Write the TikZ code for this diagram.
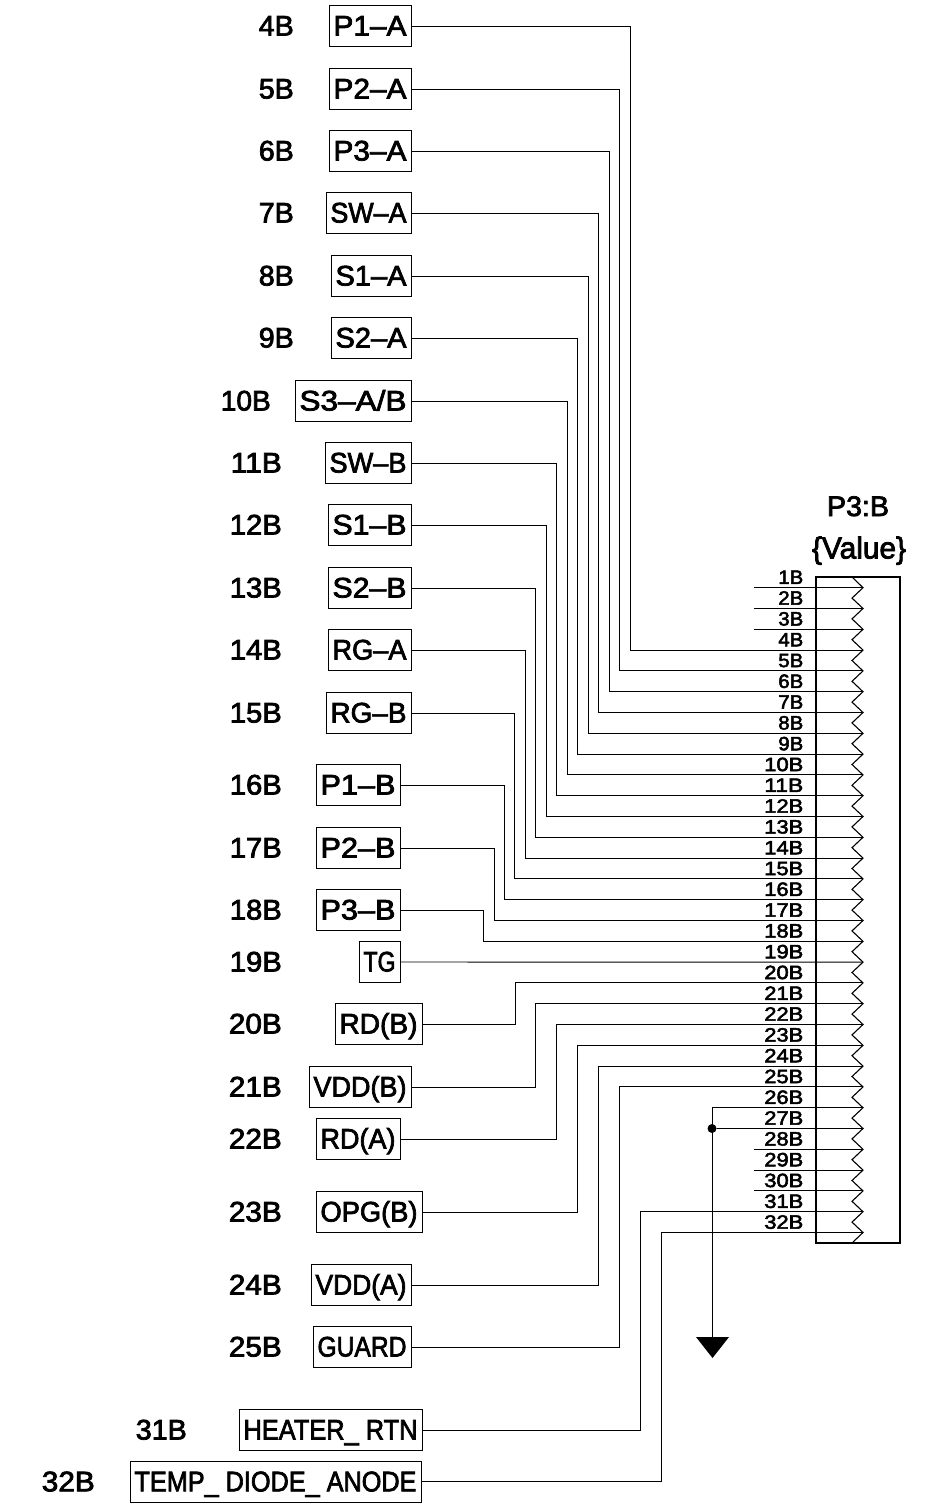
\documentclass[tikz,border=0pt]{standalone}
\usepackage{fontspec}
\usepackage{graphicx}
\setmainfont{Liberation Sans}[AutoFakeBold=2.6]
\newcommand{\fitText}[3]{\resizebox{#1pt}{#2pt}{\fontsize{30}{36}\selectfont\bfseries\vphantom{(}#3}}
\tikzset{
  wire/.style={draw=black,line width=0.95pt},
  signalbox/.style={draw=black,line width=1pt,inner sep=0pt,minimum height=41pt,text height=20.5pt,text depth=1.5pt,align=center},
  pinnum/.style={inner sep=0pt,anchor=base east},
  sidenum/.style={inner sep=0pt,anchor=east,text height=20.5pt,text depth=1.5pt},
  junction/.style={circle,fill=black,inner sep=0pt,minimum size=9pt},
  title/.style={inner sep=0pt,anchor=base}
}
% name, left, right, y, text, side label, side label right edge, side label width
\newcommand{\sigbox}[8]{%
  \pgfmathsetmacro{\boxcx}{(#2+#3)/2}%
  \pgfmathsetmacro{\boxw}{#3-#2}%
  \pgfmathsetmacro{\textw}{#3-#2-9}%
  \node[signalbox,minimum width=\boxw pt] (#1) at (\boxcx,#4) {\fitText{\textw}{20.5}{#5}};
  \node[sidenum] (#1num) at (#7,#4) {\fitText{#8}{20.5}{#6}};
}
% name, bus x, pin
\newcommand{\conn}[3]{\draw[wire] (#1.east) -- (#2,0 |- #1.east) -- (#2,0 |- tip#3) -- (tip#3);}
\begin{document}
\begin{tikzpicture}[x=1pt,y=-1pt]
\useasboundingbox (0,0) rectangle (929,1503);
\fill[white] (0,0) rectangle (929,1503);
% pins
\foreach \n in {1,...,32}{
  \pgfmathsetmacro{\py}{587.7+(\n-1)*20.8}
  \coordinate (tip\n) at (863,\py);
  \coordinate (stub\n) at (754,\py);
  \ifnum\n<10 \def\pinw{25}\else \def\pinw{39}\fi
  \node[pinnum] (pin\n) at (803.5,\py-3.8) {\fitText{\pinw}{14}{\n B}};
}
% connector body
\node[draw=black,line width=1.8pt,inner sep=0pt,minimum width=84pt,minimum height=666pt] (body) at (858,910) {};
\draw[wire,line width=1.1pt] (852,577) -- (tip1)
  \foreach \n [evaluate=\n as \vy using {587.7+(\n-1)*20.8+10.4}, evaluate=\n as \m using {int(\n+1)}] in {1,...,31}{ -- (852,\vy) -- (tip\m)} -- (852,1243);
\node[title] (ref) at (858,516) {\fitText{62}{20.5}{P3:B}};
\node[title] (val) at (859,558.5) {\resizebox{94pt}{22pt}{\fontsize{30}{36}\selectfont\bfseries\{Value\}}};
% signal boxes
\sigbox{pa}{329}{411}{26}{P1–A}{4B}{294}{35}
\sigbox{pb}{329}{411}{89}{P2–A}{5B}{294}{35}
\sigbox{pc}{329}{411}{151}{P3–A}{6B}{294}{35}
\sigbox{swa}{326}{411}{213}{SW–A}{7B}{294}{35}
\sigbox{sa}{331}{411}{276}{S1–A}{8B}{294}{35}
\sigbox{sb}{331}{411}{338}{S2–A}{9B}{294}{35}
\sigbox{sc}{295}{411}{401}{S3–A/B}{10B}{271}{50}
\sigbox{swb}{325}{411}{463}{SW–B}{11B}{282}{51}
\sigbox{sd}{328}{411}{525}{S1–B}{12B}{282}{52}
\sigbox{se}{328}{411}{588}{S2–B}{13B}{282}{52}
\sigbox{rga}{328}{411}{650}{RG–A}{14B}{282}{52}
\sigbox{rgb}{326}{411}{713}{RG–B}{15B}{282}{52}
\sigbox{pd}{316}{400}{785}{P1–B}{16B}{282}{52}
\sigbox{pe}{316}{400}{848}{P2–B}{17B}{282}{52}
\sigbox{pf}{316}{400}{910}{P3–B}{18B}{282}{52}
\sigbox{tg}{359}{400}{962}{TG}{19B}{282}{52}
\sigbox{rdb}{335}{422}{1024}{RD(B)}{20B}{282}{53}
\sigbox{vdb}{309}{411}{1087}{VDD(B)}{21B}{282}{53}
\sigbox{rda}{316}{400}{1139}{RD(A)}{22B}{282}{53}
\sigbox{opg}{316}{422}{1212}{OPG(B)}{23B}{282}{53}
\sigbox{vda}{311}{411}{1285}{VDD(A)}{24B}{282}{53}
\sigbox{grd}{313}{411}{1347}{GUARD}{25B}{282}{53}
\sigbox{htr}{239}{422}{1430}{HEATER\_ RTN}{31B}{187}{51}
\sigbox{tmp}{130}{421}{1481.8}{TEMP\_ DIODE\_ ANODE}{32B}{95}{53}
% connectors
\conn{pa}{630}{4}
\conn{pb}{619.5}{5}
\conn{pc}{609}{6}
\conn{swa}{598}{7}
\conn{sa}{588}{8}
\conn{sb}{577}{9}
\conn{sc}{567}{10}
\conn{swb}{556}{11}
\conn{sd}{546}{12}
\conn{se}{535}{13}
\conn{rga}{525}{14}
\conn{rgb}{514}{15}
\conn{pd}{504}{16}
\conn{pe}{494}{17}
\conn{pf}{483}{18}
\draw[wire] (tg.east) -- (tip19);
\conn{rdb}{515}{20}
\conn{vdb}{535}{21}
\conn{rda}{556}{22}
\conn{opg}{577}{23}
\conn{vda}{598}{24}
\conn{grd}{619}{25}
\conn{htr}{640}{31}
\conn{tmp}{661}{32}
% unconnected stubs
\foreach \n in {1,2,3,28,29,30}{\draw[wire] (stub\n) -- (tip\n);}
% ground
\coordinate (gnd) at (712,1337);
\node[junction] (j) at (712,1128.5) {};
\draw[wire] (tip26) -- (712,0 |- tip26) -- (gnd);
\draw[wire] (j) -- (tip27);
\fill[black] (696,1337) -- (729,1337) -- (712.5,1358) -- cycle;
\end{tikzpicture}
\end{document}
